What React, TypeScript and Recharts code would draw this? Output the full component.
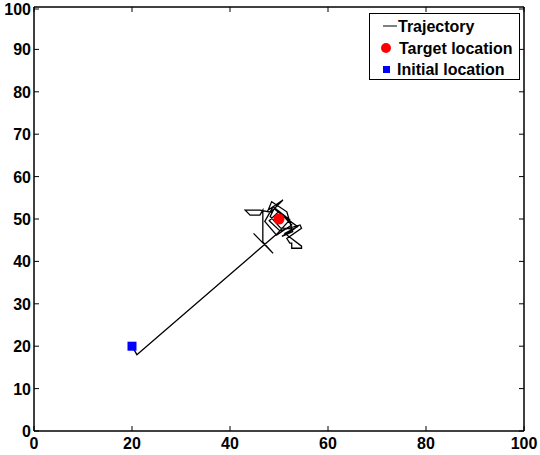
import React from 'react';
import { ScatterChart, Scatter, XAxis, YAxis } from 'recharts';

const xTicks = [0, 20, 40, 60, 80, 100];
const yTicks = [0, 10, 20, 30, 40, 50, 60, 70, 80, 90, 100];

const trajX = [20, 21, 49.6, 52.2, 48.8, 47.1, 49.5, 52.6, 50.0, 48.0, 50.2, 54.3, 54.6, 51.6, 52.2, 52.6, 52.6, 54.6, 54.6, 51.2, 53.8, 51.0, 49.0, 48.2, 50.3, 53.0, 50.6, 52.8, 51.6, 48.5, 47.8, 50.8, 48.3, 46.1, 43.1, 44.1, 46.1, 46.7, 46.7, 48.8, 44.8];
const trajY = [20, 18, 46.5, 49.8, 52.9, 49.4, 46.2, 48.6, 51.8, 49.6, 47.2, 48.6, 47.8, 45.4, 44.3, 44.3, 43.1, 43.1, 43.6, 46.6, 48.2, 50.6, 52.4, 50.6, 47.9, 47.6, 45.9, 47.0, 51.7, 54.1, 52.1, 54.5, 51.6, 52.1, 52.1, 50.9, 50.9, 52.1, 44.6, 41.9, 46.6];

const targetX = [50];
const targetY = [50];
const initX = [20];
const initY = [20];

const trajectory = trajX.map((x, i) => ({ x, y: trajY[i] }));
const target = targetX.map((x, i) => ({ x, y: targetY[i] }));
const initial = initX.map((x, i) => ({ x, y: initY[i] }));

const FONT = '"Liberation Sans", Arial, sans-serif';

const BottomTick = (props: any) => {
  const { x, y, payload } = props;
  return (
    <g>
      <line x1={x} y1={y} x2={x} y2={y - 5} stroke="#000" strokeWidth={1} />
      <text x={x} y={y + 18} textAnchor="middle" fontFamily={FONT} fontWeight="bold" fontSize={16} fill="#000">
        {payload.value}
      </text>
    </g>
  );
};

const TopTick = (props: any) => {
  const { x, y } = props;
  return <line x1={x} y1={y} x2={x} y2={y + 5} stroke="#000" strokeWidth={1} />;
};

const LeftTick = (props: any) => {
  const { x, y, payload } = props;
  return (
    <g>
      <line x1={x} y1={y} x2={x + 5} y2={y} stroke="#000" strokeWidth={1} />
      <text x={x - 3} y={y + 6} textAnchor="end" fontFamily={FONT} fontWeight="bold" fontSize={16} fill="#000">
        {payload.value}
      </text>
    </g>
  );
};

const RightTick = (props: any) => {
  const { x, y } = props;
  return <line x1={x} y1={y} x2={x - 5} y2={y} stroke="#000" strokeWidth={1} />;
};

const NoShape = () => <g />;

const TargetShape = (props: any) => {
  const { cx, cy } = props;
  return <circle cx={cx} cy={cy} r={5.5} fill="#ff0000" />;
};

const InitShape = (props: any) => {
  const { cx, cy } = props;
  return <rect x={cx - 4.5} y={cy - 4.5} width={9} height={9} fill="#0000ff" />;
};

const LegendBox = () => (
  <svg width={152} height={68} style={{ display: 'block' }}>
    <rect x={0.5} y={0.5} width={150} height={66} fill="#fff" stroke="#000" strokeWidth={1} />
    <line x1={14} y1={13} x2={28} y2={13} stroke="#000" strokeWidth={1} />
    <text x={29} y={19} fontFamily={FONT} fontWeight="bold" fontSize={16} fill="#000">Trajectory</text>
    <circle cx={17} cy={35} r={5} fill="#ff0000" />
    <text x={30} y={41} fontFamily={FONT} fontWeight="bold" fontSize={16} fill="#000">Target location</text>
    <rect x={14} y={53} width={7} height={7} fill="#0000ff" />
    <text x={28} y={62} fontFamily={FONT} fontWeight="bold" fontSize={16} fill="#000">Initial location</text>
  </svg>
);

export default function App() {
  return (
    <div style={{ position: 'absolute', left: 0, top: 0, width: 540, height: 455, background: '#fff' }}>
      <ScatterChart width={540} height={455} margin={{ top: 6, right: 15, bottom: 0, left: 0 }}>
        <XAxis
          type="number"
          dataKey="x"
          domain={[0, 100]}
          ticks={xTicks}
          allowDataOverflow
          height={24}
          tickSize={0}
          tickMargin={0}
          tickLine={false}
          tick={<BottomTick />}
          axisLine={{ stroke: '#000', strokeWidth: 1.5 }}
        />
        <XAxis
          xAxisId="top"
          orientation="top"
          type="number"
          dataKey="x"
          domain={[0, 100]}
          ticks={xTicks}
          allowDataOverflow
          height={1}
          tickSize={0}
          tickMargin={0}
          tickLine={false}
          tick={<TopTick />}
          axisLine={{ stroke: '#000', strokeWidth: 1.5 }}
        />
        <YAxis
          type="number"
          dataKey="y"
          domain={[0, 100]}
          ticks={yTicks}
          allowDataOverflow
          width={34}
          tickSize={0}
          tickMargin={0}
          tickLine={false}
          tick={<LeftTick />}
          axisLine={{ stroke: '#000', strokeWidth: 1.5 }}
        />
        <YAxis
          yAxisId="right"
          orientation="right"
          type="number"
          dataKey="y"
          domain={[0, 100]}
          ticks={yTicks}
          allowDataOverflow
          width={1}
          tickSize={0}
          tickMargin={0}
          tickLine={false}
          tick={<RightTick />}
          axisLine={{ stroke: '#000', strokeWidth: 1.5 }}
        />
        <Scatter
          name="Trajectory"
          data={trajectory}
          line={{ stroke: '#000', strokeWidth: 1.3 }}
          lineJointType="linear"
          shape={<NoShape />}
          isAnimationActive={false}
        />
        <Scatter name="Target location" data={target} shape={<TargetShape />} isAnimationActive={false} />
        <Scatter name="Initial location" data={initial} shape={<InitShape />} isAnimationActive={false} />
        <Scatter
          name="frame"
          xAxisId="top"
          yAxisId="right"
          data={initial}
          shape={<NoShape />}
          legendType="none"
          isAnimationActive={false}
        />
      </ScatterChart>
      <div style={{ position: 'absolute', left: 369, top: 13 }}>
        <LegendBox />
      </div>
    </div>
  );
}
